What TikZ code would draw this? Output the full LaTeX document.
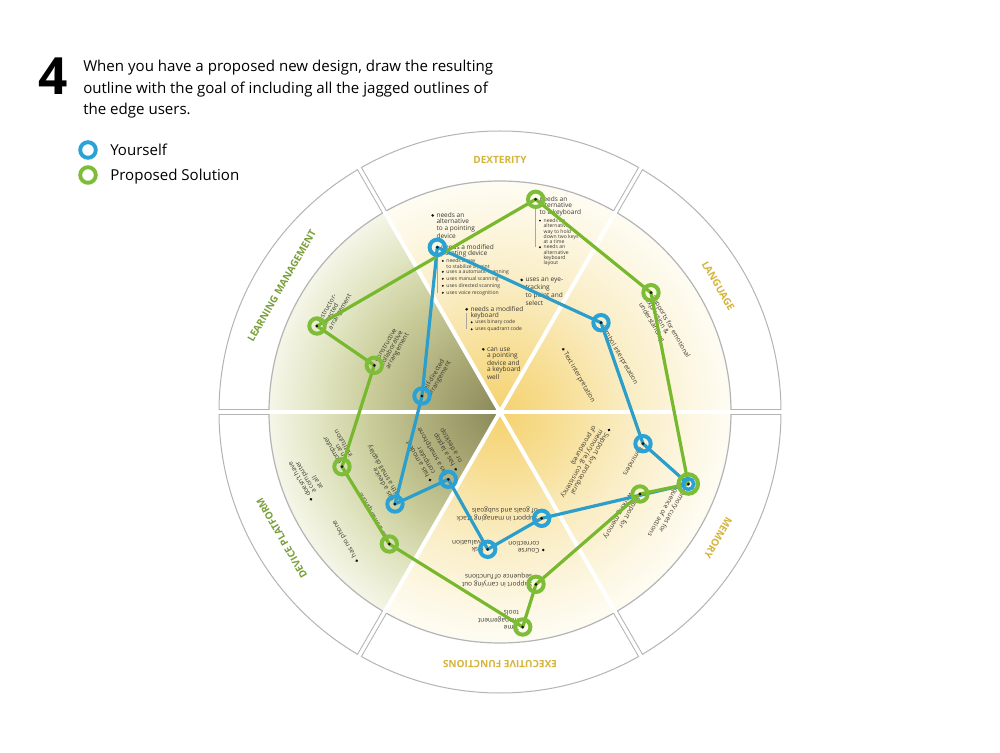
\documentclass[tikz,border=0pt]{standalone}
\usepackage{fontspec}
\setmainfont{Open Sans}
\usetikzlibrary{calc}
\definecolor{yc0}{HTML}{F5D270}
\definecolor{yc1}{HTML}{F7DE94}
\definecolor{yc2}{HTML}{FAEDC4}
\definecolor{yc3}{HTML}{FDF8E6}
\definecolor{yc4}{HTML}{FEFCF3}
\definecolor{oc0}{HTML}{8A8858}
\definecolor{oc1}{HTML}{A3A26F}
\definecolor{oc2}{HTML}{C9CC99}
\definecolor{oc3}{HTML}{E0E4C0}
\definecolor{oc4}{HTML}{F5F6E8}
\definecolor{ringgray}{HTML}{B4B4B4}
\definecolor{gold}{HTML}{D5B43C}
\definecolor{olivelbl}{HTML}{7A9F3A}
\definecolor{txt}{HTML}{3A3832}
\definecolor{dotc}{HTML}{111111}
\definecolor{ringblue}{HTML}{2AA2D6}
\definecolor{ringgreen}{HTML}{7DBD38}
\definecolor{lineblue}{HTML}{2C9EC9}
\definecolor{linegreen}{HTML}{77B82F}
\definecolor{subline}{HTML}{A8A8A0}
\pgfdeclareradialshading{yshade}{\pgfpoint{0bp}{0bp}}{color(0bp)=(yc0); color(6.5bp)=(yc1); color(14bp)=(yc2); color(21.6bp)=(yc3); color(25bp)=(yc4); color(50bp)=(yc4)}
\pgfdeclareradialshading{oshade}{\pgfpoint{0bp}{0bp}}{color(0bp)=(oc0); color(5.4bp)=(oc1); color(14bp)=(oc2); color(19.5bp)=(oc3); color(25bp)=(oc4); color(50bp)=(oc4)}
\tikzset{
 lbl/.style={font=\fontsize{4.9pt}{4.8pt}\selectfont, align=left, anchor=north west, inner sep=0pt, text=txt},
 slbl/.style={font=\fontsize{3.8pt}{4pt}\selectfont, align=left, anchor=north west, inner sep=0pt, text=txt},
 seclbl/.style={font=\fontsize{7.5pt}{7.5pt}\selectfont\bfseries, inner sep=0pt},
 hdr/.style={font=\fontsize{11.3pt}{13pt}\selectfont, anchor=base west, inner sep=0pt, text=black},
 bring/.style={draw=ringblue, line width=3pt},
 gring/.style={draw=ringgreen, line width=3pt},
 bline/.style={draw=lineblue, line width=2.4pt, line join=round},
 gline/.style={draw=linegreen, line width=2.4pt, line join=round},
 vsub/.style={draw=subline, line width=0.4pt},
}
\newcommand\dotlab[2]{\fill[dotc] (#1) circle (1.45); \node[lbl] at ($(#1)+(3.6,3.4)$) {\rule{0pt}{0.78em}#2};}
\newcommand\sublab[4]{\fill[dotc] ($(#1)+(#2,#3)$) circle (1.05); \node[slbl] at ($(#1)+({#2+3.4},{#3+2.55})$) {\rule{0pt}{0.78em}#4};}
\begin{document}
\begin{tikzpicture}[x=0.75pt,y=0.75pt]
\useasboundingbox (-500,-341) rectangle (500,412);
\fill[white] (-500,-341) rectangle (500,412);
% disk
\shade[shading=yshade] (0,0) circle (231);
\begin{scope}
\clip (0,0) -- (120:300) -- (180:300) -- (240:300) -- cycle;
\shade[shading=oshade] (0,0) circle (231);
\end{scope}
\draw[ringgray, line width=0.9pt] (0,0) circle (231);
\draw[ringgray, line width=0.75pt] (0,0) circle (281);
\foreach \a in {0,60,...,300} {
  \draw[white, line width=3pt] (0,0) -- (\a:231);
  \draw[ringgray, line width=4pt] (\a:231) -- (\a:281.4);
  \draw[white, line width=2.5pt] (\a:229) -- (\a:282.5);
}
% sector labels
\node[seclbl, text=gold] (sDex) at (90:252) {DEXTERITY};
\node[seclbl, text=gold, rotate=-60] (sLan) at (30:252) {LANGUAGE};
\node[seclbl, text=gold, rotate=-120] (sMem) at (-30:252) {MEMORY};
\node[seclbl, text=gold, rotate=180] (sExe) at (-90:252) {EXECUTIVE FUNCTIONS};
\node[seclbl, text=olivelbl, rotate=120] (sDev) at (210:252) {DEVICE PLATFORM};
\node[seclbl, text=olivelbl, rotate=60] (sLea) at (150:252) {LEARNING MANAGEMENT};
% points
\coordinate (dA) at (-67.3,196.5);
\coordinate (dB) at (-62.7,164.7);
\coordinate (dC) at (35.7,212.7);
\coordinate (dD) at (21.7,132);
\coordinate (dE) at (-33.3,102.7);
\coordinate (dF) at (-16.7,62.7);
\coordinate (lA) at (151,119.3);
\coordinate (lB) at (101,89.3);
\coordinate (lC) at (63.3,62.7);
\coordinate (mA) at (109,-18);
\coordinate (mB) at (143,-31.7);
\coordinate (mC) at (188.3,-72);
\coordinate (mD) at (140,-82);
\coordinate (eA) at (41.7,-106.3);
\coordinate (eB) at (43.3,-138);
\coordinate (eC) at (-12.3,-137.3);
\coordinate (eD) at (36,-172.3);
\coordinate (eE) at (22.7,-215);
\coordinate (pA) at (-158,-54.7);
\coordinate (pB) at (-189,-87.3);
\coordinate (pC) at (-143.3,-148.7);
\coordinate (pD) at (-110.7,-132);
\coordinate (pE) at (-105,-92);
\coordinate (pF) at (-70,-68);
\coordinate (pG) at (-51.7,-67.3);
\coordinate (pH) at (-44.3,-57.3);
\coordinate (lmA) at (-183,86);
\coordinate (lmB) at (-125.7,46.7);
\coordinate (lmC) at (-78,16);
% dexterity
\dotlab{dA}{needs an\\alternative\\to a pointing\\device}
\dotlab{dB}{needs a modified\\pointing device}
\draw[vsub] ($(dB)+(0,-4)$) -- ($(dB)+(0,-45.5)$);
\sublab{dB}{5.5}{-13.7}{needs a way\\to stabilize a point}
\sublab{dB}{5.5}{-24.5}{uses a automatic scanning}
\sublab{dB}{5.5}{-31.5}{uses manual scanning}
\sublab{dB}{5.5}{-38.5}{uses directed scanning}
\sublab{dB}{5.5}{-45.5}{uses voice recognition}
\dotlab{dC}{needs an\\alternative\\to a keyboard}
\draw[vsub] ($(dC)+(0,-9.7)$) -- ($(dC)+(0,-48)$);
\sublab{dC}{4.3}{-21.4}{needs an\\alternative\\way to hold\\down two keys\\at a time}
\sublab{dC}{4.3}{-48}{needs an\\alternative\\keyboard\\layout}
\dotlab{dD}{uses an eye-\\tracking\\to point and\\select}
\dotlab{dE}{needs a modified\\keyboard}
\draw[vsub] ($(dE)+(0,-3.7)$) -- ($(dE)+(0,-20)$);
\sublab{dE}{5}{-13}{uses binary code}
\sublab{dE}{5}{-20}{uses quadrant code}
\dotlab{dF}{can use\\a pointing\\device and\\a keyboard\\well}
% language
\begin{scope}[rotate=-60, transform shape]
\dotlab{lA}{Supports for emotional\\expression \&\\understanding}
\dotlab{lB}{Symbol interpretation}
\dotlab{lC}{Text interpretation}
\end{scope}
% memory
\begin{scope}[rotate=-120, transform shape]
\dotlab{mA}{Support for procedural\\memory (e.g. consistency\\of procedures)}
\dotlab{mB}{Reminders}
\dotlab{mC}{Memory cues for\\sequence of actions}
\dotlab{mD}{Support for\\working memory}
\end{scope}
% executive functions
\begin{scope}[rotate=180, transform shape]
\dotlab{eA}{Support in managing stack\\of goals and subgoals}
\dotlab{eB}{Course\\correction}
\dotlab{eC}{Risk\\evaluation}
\dotlab{eD}{Support in carrying out\\sequence of functions}
\dotlab{eE}{Time\\management\\tools}
\end{scope}
% device platform
\begin{scope}[rotate=120, transform shape]
\dotlab{pA}{Computer\\on an\\institution}
\dotlab{pB}{doesn't have\\a computer\\at all}
\dotlab{pC}{has no phone}
\dotlab{pD}{has a smartphone}
\dotlab{pE}{has a device\\with a small display}
\dotlab{pF}{has a modest\\computer}
\dotlab{pG}{has a smartphone}
\dotlab{pH}{has a laptop\\or a desktop}
\end{scope}
% learning management
\begin{scope}[rotate=60, transform shape]
\dotlab{lmA}{Instructor-\\directed\\arrangement}
\dotlab{lmB}{Constructive\\collaborative\\arrangement}
\dotlab{lmC}{Self-directed\\arrangement}
\end{scope}
% outlines
\draw[bline] (dB) -- (lB) -- (mB) -- (mC) -- (eA) -- (eC) -- (pG) -- (pE) -- (lmC) -- cycle;
\draw[gline] (dC) -- (lA) -- (mC) -- (mD) -- (eD) -- (eE) -- (pD) -- (pA) -- (lmB) -- (lmA) -- cycle;
\foreach \p in {dC,lA,mD,eD,eE,pD,pA,lmB,lmA} \draw[gring] (\p) circle (7.7);
\foreach \p in {dB,lB,mB,eA,eC,pG,pE,lmC} \draw[bring] (\p) circle (7.7);
\draw[gring, line width=3.1pt] (mC) circle (9.7);
\draw[bring, line width=2.7pt] (mC) circle (5.5);
\foreach \p in {dB,lB,mB,mC,eA,eC,pG,pE,lmC,dC,lA,mD,eD,eE,pD,pA,lmB,lmA} \fill[dotc] (\p) circle (1.5);
% header
\node[anchor=base west, inner sep=0pt, font=\fontsize{38.5pt}{38.5pt}\selectfont\bfseries] (num) at (-462,317) {4};
\node[hdr] (h1) at (-417,340.3) {When you have a proposed new design, draw the resulting};
\node[hdr] (h2) at (-417,318.6) {outline with the goal of including all the jagged outlines of};
\node[hdr] (h3) at (-417,297) {the edge users.};
% legend
\draw[draw=ringblue, line width=2.9pt] (-412,262) circle (7.8);
\draw[draw=ringgreen, line width=2.9pt] (-412,237) circle (7.8);
\node[hdr] (ly) at (-390,256.5) {Yourself};
\node[hdr] (lg) at (-390,231.5) {Proposed Solution};
\end{tikzpicture}
\end{document}
